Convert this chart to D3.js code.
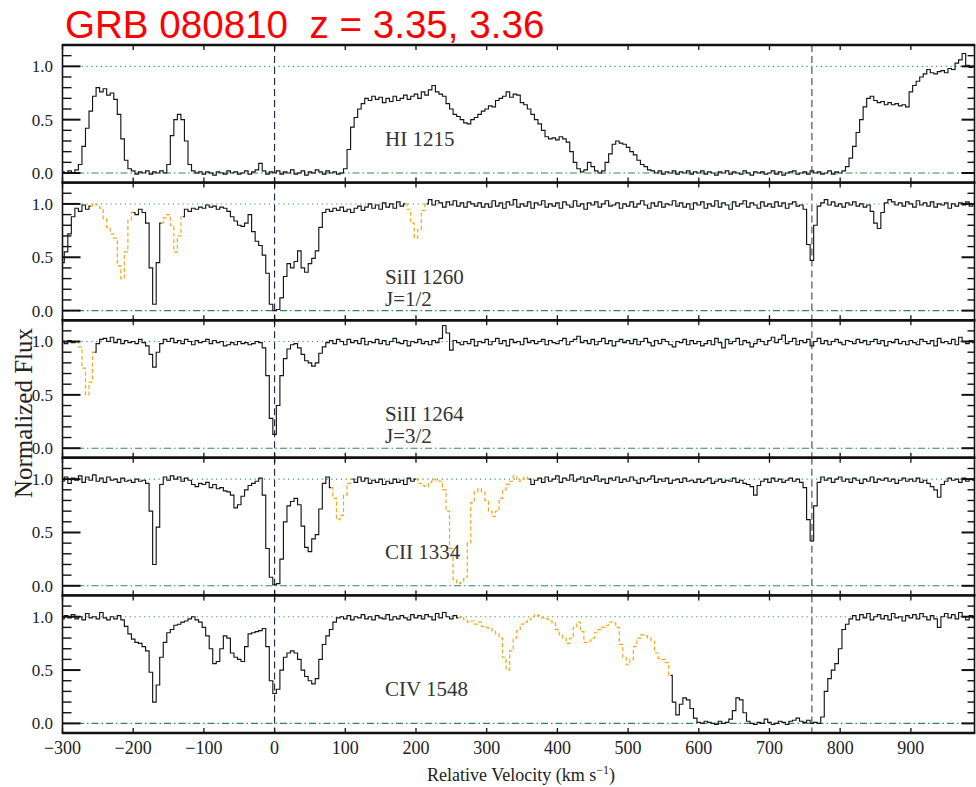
<!DOCTYPE html>
<html>
<head>
<meta charset="utf-8">
<script src="https://cdn.jsdelivr.net/npm/d3@7/dist/d3.min.js"></script>
<style>
  body { margin: 0; background: #fff; }
  svg { display: block; }
</style>
</head>
<body>
<svg id="chart" width="976" height="787"></svg>
<script>
// Velocity grid of every spectrum (km/s): first pixel and pixel width
const velocityStart = -300;
const velocityStep = 5;

// Normalized flux, one value per 5 km/s pixel, each row covers 100 km/s
const fluxHI1215 = [
  0.01,0.00,0.02,0.00,0.03,0.08,0.25,0.42,0.58,0.72,0.80,0.76,0.79,0.73,0.75,0.69,0.55,0.32,0.12,0.04,
  0.02,-0.01,0.01,0.00,0.02,-0.01,0.01,0.00,0.02,0.00,0.08,0.35,0.50,0.55,0.50,0.30,0.08,0.02,0.00,0.01,
  -0.01,0.01,0.00,-0.02,0.01,0.00,-0.01,0.02,0.00,0.01,-0.01,0.00,0.02,-0.01,0.01,0.03,0.09,0.02,-0.01,0.01,
  0.00,0.02,-0.01,0.01,0.00,0.03,-0.01,0.00,0.02,-0.02,0.01,0.00,0.03,0.01,-0.01,0.02,0.00,0.01,-0.01,0.00,
  0.04,0.22,0.43,0.52,0.60,0.65,0.70,0.68,0.72,0.69,0.71,0.66,0.70,0.67,0.72,0.68,0.70,0.73,0.69,0.72,
  0.74,0.70,0.76,0.73,0.78,0.82,0.76,0.74,0.72,0.65,0.60,0.55,0.53,0.50,0.47,0.46,0.50,0.52,0.55,0.58,
  0.60,0.63,0.62,0.68,0.70,0.72,0.76,0.71,0.74,0.73,0.66,0.64,0.60,0.55,0.50,0.46,0.40,0.34,0.32,0.33,
  0.31,0.34,0.32,0.29,0.20,0.10,0.04,0.01,0.03,0.10,0.06,0.02,0.00,0.02,0.10,0.18,0.27,0.30,0.28,0.27,
  0.24,0.20,0.17,0.12,0.08,0.06,0.03,0.02,0.00,0.02,-0.01,0.01,0.00,0.02,-0.01,0.01,0.00,0.02,-0.01,0.01,
  0.00,0.02,-0.01,0.01,0.00,-0.02,0.01,0.00,0.02,-0.01,0.01,0.00,-0.01,0.02,0.00,-0.02,0.01,0.00,0.01,-0.01,
  0.00,0.02,-0.01,0.01,-0.02,0.00,0.01,0.02,-0.01,0.00,0.01,-0.01,0.02,0.00,0.01,-0.01,0.00,0.02,-0.01,0.01,
  0.00,0.02,0.06,0.14,0.25,0.38,0.50,0.62,0.70,0.72,0.68,0.66,0.67,0.64,0.66,0.64,0.65,0.63,0.64,0.62,
  0.76,0.82,0.86,0.90,0.93,0.97,0.94,0.93,0.95,0.96,0.94,0.98,0.97,1.03,1.06,1.12,1.01,0.99,1.00,1.00
];

const fluxSiII1260 = [
  0.45,0.55,0.72,0.88,0.96,0.93,0.99,0.95,0.98,1.00,0.99,0.96,0.86,0.78,0.72,0.68,0.42,0.30,0.55,0.85,
  0.92,0.90,0.95,0.92,0.82,0.40,0.06,0.45,0.82,0.87,0.90,0.80,0.55,0.70,0.88,0.95,0.93,0.96,0.95,0.97,
  0.96,0.99,0.97,0.98,0.95,0.97,0.96,0.93,0.88,0.84,0.80,0.79,0.82,0.90,0.74,0.65,0.61,0.52,0.35,0.06,
  0.00,0.01,0.12,0.32,0.44,0.40,0.46,0.56,0.40,0.36,0.44,0.49,0.56,0.78,0.92,0.95,0.93,0.96,0.94,0.97,
  0.93,0.95,0.92,0.96,0.98,0.94,0.97,1.00,0.96,0.99,0.95,1.01,0.97,1.00,0.96,1.02,0.98,1.00,0.95,0.82,
  0.68,0.76,0.94,1.00,1.04,0.99,1.03,1.01,0.97,1.02,0.99,1.03,0.98,1.01,0.97,1.02,1.00,0.98,1.01,0.97,
  1.00,0.97,1.03,0.98,1.01,0.96,1.02,0.99,1.04,0.97,1.00,0.98,1.02,0.96,1.01,0.99,1.03,0.97,1.00,0.98,
  1.01,0.96,1.02,0.99,0.97,1.03,0.98,1.00,0.95,1.01,0.99,1.02,0.97,1.00,1.03,0.98,0.99,1.01,0.96,1.00,
  0.98,1.02,0.97,1.00,1.03,0.99,0.96,1.01,0.98,1.02,0.97,1.00,0.99,1.03,0.98,1.01,0.97,1.00,0.95,1.01,
  0.99,1.02,0.96,1.00,0.98,1.03,0.97,1.01,0.99,0.95,1.02,0.98,1.00,1.03,0.97,1.01,0.99,0.96,1.02,0.98,
  1.00,0.97,1.02,0.98,1.01,0.96,1.00,1.02,0.98,0.99,0.95,0.62,0.47,0.80,0.98,1.01,1.04,0.99,1.02,0.98,
  1.00,0.97,1.01,0.99,1.02,0.98,1.00,0.97,0.99,0.93,0.82,0.77,0.92,1.01,1.04,1.02,0.99,1.01,0.98,1.02,
  1.00,0.97,1.03,0.99,1.01,0.98,1.02,0.97,1.00,0.99,1.01,0.96,1.00,0.98,1.01,0.99,1.02,0.98,1.00,0.99
];

const fluxSiII1264 = [
  1.00,0.98,1.01,0.99,1.00,0.95,0.75,0.50,0.62,0.90,0.98,1.02,1.03,1.00,1.04,0.99,1.02,0.98,1.01,0.99,
  1.00,0.98,1.02,0.99,0.96,0.88,0.76,0.90,0.98,1.02,1.00,1.03,0.99,1.01,0.98,1.02,1.00,0.97,1.01,0.99,
  1.00,1.02,0.98,1.01,0.99,1.00,0.96,0.97,0.99,0.97,1.00,0.98,0.99,0.97,0.98,1.00,0.99,0.94,0.68,0.28,
  0.13,0.40,0.68,0.84,0.93,0.97,0.98,0.94,0.88,0.82,0.80,0.77,0.80,0.89,0.95,0.99,1.01,0.98,1.02,1.00,
  0.97,1.02,0.99,1.01,0.98,1.03,0.97,1.00,0.99,1.02,0.98,1.01,0.97,1.00,1.03,0.99,0.98,1.01,0.96,1.00,
  0.99,1.02,0.98,1.00,0.97,1.01,0.99,1.03,1.15,1.08,0.92,1.01,0.99,0.97,1.00,0.98,1.02,0.96,1.00,0.99,
  1.02,0.97,1.00,1.03,0.98,1.01,0.96,1.02,0.99,1.00,0.97,1.03,0.99,1.01,0.98,1.00,1.02,0.97,1.01,0.99,
  0.98,1.01,1.03,0.97,1.00,1.02,1.05,0.99,1.01,0.98,1.02,0.97,1.00,1.03,0.98,1.01,0.96,1.00,1.02,0.99,
  1.01,0.98,1.02,0.97,1.00,1.03,0.99,0.96,1.01,0.98,1.02,1.00,0.97,0.95,1.00,0.99,1.02,0.97,1.01,0.98,
  1.00,0.96,0.98,1.01,0.97,1.03,0.99,0.94,1.02,0.98,1.00,1.03,0.97,1.01,0.99,0.95,0.98,1.02,1.00,0.97,
  1.01,1.04,0.99,1.02,1.06,0.98,1.00,1.03,0.97,1.01,0.99,1.02,0.96,1.00,1.03,0.98,1.01,0.97,1.00,1.02,
  0.99,0.97,1.01,1.00,0.98,1.02,0.99,1.01,0.97,1.00,1.02,0.98,1.01,0.96,1.00,0.99,1.02,0.98,1.00,0.97,
  1.01,0.99,0.97,1.02,1.00,0.98,1.01,0.96,1.03,0.99,1.00,0.98,1.02,0.97,1.04,1.00,0.98,1.01,0.99,1.00
];

const fluxCII1334 = [
  0.98,1.02,0.96,1.01,0.99,1.03,0.97,1.02,0.99,1.04,0.98,1.01,0.97,1.02,0.99,1.00,0.97,1.01,0.98,0.99,
  0.97,1.00,0.98,0.99,0.96,0.70,0.20,0.55,0.95,1.02,0.99,1.03,1.00,1.02,0.98,1.01,0.99,0.95,0.93,0.96,
  0.95,0.97,0.92,0.95,0.91,0.92,0.89,0.88,0.85,0.73,0.76,0.84,0.90,0.94,0.96,0.98,1.01,0.85,0.35,0.08,
  0.01,0.02,0.25,0.60,0.75,0.79,0.82,0.76,0.56,0.36,0.32,0.44,0.48,0.72,0.96,1.02,0.92,0.82,0.62,0.66,
  0.85,0.96,1.00,0.97,1.02,0.98,1.01,0.96,0.99,0.97,1.00,0.95,0.98,0.96,1.00,0.97,0.99,0.95,1.01,0.98,
  1.00,0.96,0.94,0.93,0.97,1.00,0.99,0.98,0.90,0.70,0.35,0.06,0.02,0.03,0.08,0.40,0.78,0.88,0.91,0.88,
  0.80,0.70,0.65,0.70,0.82,0.90,0.95,0.98,1.03,0.98,1.00,1.02,1.00,0.95,0.99,1.01,0.97,1.02,0.98,1.00,
  1.03,0.97,1.01,0.99,1.04,0.98,1.00,1.02,0.97,1.01,0.99,1.03,0.98,1.00,0.96,1.01,0.99,1.02,0.97,1.00,
  0.98,1.02,0.99,0.96,1.01,0.98,1.00,1.03,0.97,1.00,0.98,1.01,0.96,0.99,1.00,0.97,1.01,0.98,0.99,0.97,
  1.00,0.97,0.99,1.01,0.96,0.98,1.00,0.97,0.99,0.98,1.01,0.97,0.99,0.96,0.95,0.93,0.85,0.94,0.98,1.00,
  0.97,1.01,0.98,1.00,0.97,0.99,1.01,0.98,1.00,0.97,0.92,0.62,0.42,0.75,0.97,1.02,0.99,1.01,0.97,1.00,
  1.02,0.98,1.00,0.97,1.01,0.99,0.96,1.00,0.98,1.02,0.97,1.00,0.99,1.01,0.98,1.00,0.96,0.99,1.01,0.98,
  1.00,0.98,1.01,0.97,0.99,0.96,0.93,0.90,0.83,0.95,0.98,1.01,0.99,1.00,0.97,1.01,0.98,1.00,0.99,1.00
];

const fluxCIV1548 = [
  0.98,1.01,0.99,1.02,0.98,1.00,0.97,1.03,0.99,1.00,0.98,1.04,0.99,0.97,1.00,0.98,1.01,0.97,0.91,0.84,
  0.79,0.76,0.75,0.72,0.68,0.48,0.20,0.36,0.62,0.76,0.85,0.88,0.92,0.93,0.95,0.96,0.98,1.00,0.97,0.95,
  0.90,0.82,0.70,0.56,0.58,0.70,0.82,0.80,0.66,0.62,0.60,0.58,0.72,0.84,0.85,0.86,0.87,0.89,0.72,0.40,
  0.28,0.32,0.50,0.62,0.66,0.68,0.66,0.60,0.50,0.44,0.40,0.37,0.42,0.60,0.74,0.82,0.88,0.95,0.99,1.00,
  0.98,1.01,0.97,1.00,0.99,1.02,0.98,1.00,0.97,1.01,0.99,0.98,1.02,0.97,1.00,0.98,1.01,0.99,0.97,1.02,
  0.99,1.01,0.98,1.02,1.00,0.97,1.03,0.99,1.04,1.00,0.98,1.01,0.99,1.00,0.97,0.95,0.96,0.93,0.95,0.91,
  0.90,0.89,0.87,0.84,0.80,0.62,0.50,0.68,0.80,0.87,0.93,0.95,0.97,1.00,1.02,1.01,0.99,0.98,0.96,0.94,
  0.88,0.83,0.80,0.75,0.80,0.90,0.95,0.86,0.76,0.77,0.80,0.85,0.88,0.90,0.92,0.95,0.94,0.90,0.74,0.62,
  0.55,0.60,0.72,0.80,0.83,0.82,0.80,0.77,0.66,0.61,0.60,0.57,0.45,0.20,0.08,0.18,0.24,0.22,0.14,0.05,
  0.01,0.00,0.02,0.01,0.00,-0.01,0.02,0.00,0.01,0.04,0.12,0.24,0.22,0.10,0.02,0.00,-0.01,0.01,0.00,0.04,
  0.01,-0.01,0.00,0.02,0.01,-0.01,0.02,0.03,0.05,0.02,0.01,0.03,0.00,0.01,0.00,0.06,0.30,0.42,0.50,0.56,
  0.70,0.88,0.93,0.98,1.01,0.97,1.02,0.99,1.03,0.97,1.00,1.02,0.98,1.01,0.97,1.03,0.99,1.00,0.96,1.01,
  0.99,1.02,0.98,1.03,1.00,0.97,1.01,0.98,0.90,1.00,1.03,0.99,1.02,0.98,1.04,1.00,0.97,1.01,0.99,1.00
];

// Transition labels written inside each panel
const panelLabels = [["HI 1215"], ["SiII 1260", "J=1/2"], ["SiII 1264", "J=3/2"], ["CII 1334"], ["CIV 1548"]];

// Velocity windows (km/s) blended with other absorbers, drawn dashed
const blendsHI1215 = [];
const blendsSiII1260 = [[-260, -200], [-160, -130], [185, 215]];
const blendsSiII1264 = [[-280, -255]];
const blendsCII1334 = [[80, 110], [200, 360]];
const blendsCIV1548 = [[260, 560]];

// Component velocities marked by vertical lines (km/s)
const componentVelocities = [0, 760];

// Axis ticks
const xTickValues = [-300, -200, -100, 0, 100, 200, 300, 400, 500, 600, 700, 800, 900];
const xTickLabels = ["\u2212300", "\u2212200", "\u2212100", "0", "100", "200", "300", "400", "500", "600", "700", "800", "900"];
const yMajorTicks = [0, 0.5, 1.0];
const yTickLabels = ["0.0", "0.5", "1.0"];
const yMinorTicks = [0, 0.1, 0.2, 0.3, 0.4, 0.5, 0.6, 0.7, 0.8, 0.9, 1.0, 1.1];

const titleText = "GRB 080810  z = 3.35, 3.36";

// ---------------------------------------------------------------------------
const fluxes = [fluxHI1215, fluxSiII1260, fluxSiII1264, fluxCII1334, fluxCIV1548];
const blends = [blendsHI1215, blendsSiII1260, blendsSiII1264, blendsCII1334, blendsCIV1548];

const svg = d3.select("#chart");
const serif = "'Liberation Serif', 'Times New Roman', serif";

const left = 62.5, right = 974.5, top0 = 45, panelH = 137.6;
const x = d3.scaleLinear().domain([-300, 990]).range([left, right]);

svg.append("text")
  .attr("x", 65).attr("y", 38)
  .attr("fill", "#ff0000")
  .attr("font-family", "'Liberation Sans', Arial, sans-serif")
  .attr("font-size", 38.6)
  .style("white-space", "pre")
  .text(titleText);

fluxes.forEach((flux, p) => {
  const top = top0 + p * panelH;
  const y = d3.scaleLinear().domain([-0.09, 1.2]).range([top + panelH, top]);
  const g = svg.append("g");
  const data = flux.map((f, i) => ({ v: velocityStart + i * velocityStep, f }));

  const clipId = "clip" + p;
  svg.append("clipPath").attr("id", clipId)
    .append("rect").attr("x", left).attr("y", top).attr("width", right - left).attr("height", panelH);

  // continuum and zero reference lines
  g.append("line")
    .attr("x1", left).attr("x2", right).attr("y1", y(1)).attr("y2", y(1))
    .attr("stroke", "#2f9e68").attr("stroke-width", 1.1).attr("stroke-dasharray", "1.2,3.6");
  g.append("line")
    .attr("x1", left).attr("x2", right).attr("y1", y(0)).attr("y2", y(0))
    .attr("stroke", "#2e8b57").attr("stroke-width", 1.1).attr("stroke-dasharray", "7,3,1.5,3");

  // component markers
  componentVelocities.forEach((cv, k) => {
    g.append("line")
      .attr("x1", x(cv)).attr("x2", x(cv)).attr("y1", top).attr("y2", top + panelH)
      .attr("stroke", k === 0 ? "#1d2140" : "#444").attr("stroke-width", 1.1)
      .attr("stroke-dasharray", "7,4");
  });

  const blendList = blends[p];
  const inside = d => blendList.some(([a, b]) => d.v > a && d.v < b);

  const line = d3.line()
    .x(d => x(d.v)).y(d => y(d.f))
    .curve(d3.curveStep);

  const plot = g.append("g").attr("clip-path", `url(#${clipId})`);
  plot.append("path")
    .datum(data)
    .attr("fill", "none").attr("stroke", "#151515").attr("stroke-width", 1.15)
    .attr("stroke-linejoin", "miter")
    .attr("d", line.defined(d => !inside(d)));

  blendList.forEach(([a, b]) => {
    plot.append("path")
      .datum(data.filter(d => d.v >= a && d.v <= b))
      .attr("fill", "none").attr("stroke", "#f3a71c").attr("stroke-width", 1.2)
      .attr("stroke-dasharray", "4,2.5")
      .attr("d", d3.line().x(d => x(d.v)).y(d => y(d.f)).curve(d3.curveStep));
  });

  // labels inside the panel
  panelLabels[p].forEach((t, k) => {
    g.append("text")
      .attr("x", 385).attr("y", top + 101 + k * 22)
      .attr("font-family", serif).attr("font-size", 21).attr("fill", "#333")
      .text(t);
  });

  // frame
  g.append("line").attr("x1", left).attr("x2", left).attr("y1", top).attr("y2", top + panelH)
    .attr("stroke", "#111").attr("stroke-width", 1.6);
  g.append("line").attr("x1", right).attr("x2", right).attr("y1", top).attr("y2", top + panelH)
    .attr("stroke", "#111").attr("stroke-width", 1.6);
  g.append("line").attr("x1", left - 0.8).attr("x2", right + 0.8).attr("y1", top).attr("y2", top)
    .attr("stroke", "#111").attr("stroke-width", 2.4);
  g.append("line").attr("x1", left - 0.8).attr("x2", right + 0.8).attr("y1", top + panelH).attr("y2", top + panelH)
    .attr("stroke", "#111").attr("stroke-width", 2.4);

  // y ticks, both sides
  yMinorTicks.forEach(t => {
    const major = yMajorTicks.some(m => Math.abs(m - t) < 1e-6);
    g.append("line").attr("x1", left).attr("x2", left + (major ? 18 : 9))
      .attr("y1", y(t)).attr("y2", y(t)).attr("stroke", "#111").attr("stroke-width", major ? 2 : 1.4);
    g.append("line").attr("x1", right).attr("x2", right - (major ? 13 : 7))
      .attr("y1", y(t)).attr("y2", y(t)).attr("stroke", "#111").attr("stroke-width", major ? 2 : 1.4);
  });
  yMajorTicks.forEach((t, k) => {
    g.append("text")
      .attr("x", 53).attr("y", y(t)).attr("dy", "0.35em")
      .attr("text-anchor", "end")
      .attr("font-family", serif).attr("font-size", 17).attr("fill", "#222")
      .text(yTickLabels[k]);
  });

  // x ticks on top and bottom edges
  xTickValues.forEach(v => {
    g.append("line").attr("x1", x(v)).attr("x2", x(v)).attr("y1", top).attr("y2", top + 5)
      .attr("stroke", "#111").attr("stroke-width", 1.3);
    g.append("line").attr("x1", x(v)).attr("x2", x(v)).attr("y1", top + panelH).attr("y2", top + panelH - 5)
      .attr("stroke", "#111").attr("stroke-width", 1.3);
  });
});

// bottom axis labels
const bottom = top0 + 5 * panelH;
xTickValues.forEach((v, k) => {
  svg.append("text")
    .attr("x", x(v)).attr("y", bottom + 21)
    .attr("text-anchor", "middle")
    .attr("font-family", serif).attr("font-size", 18).attr("fill", "#222")
    .text(xTickLabels[k]);
});

const xTitle = svg.append("text")
  .attr("x", 521).attr("y", bottom + 48)
  .attr("text-anchor", "middle")
  .attr("font-family", serif).attr("font-size", 18).attr("fill", "#222");
xTitle.append("tspan").text("Relative Velocity (km s");
xTitle.append("tspan").attr("dy", -7).attr("font-size", 12).text("\u22121");
xTitle.append("tspan").attr("dy", 7).text(")");

svg.append("text")
  .attr("transform", `translate(32, 413) rotate(-90)`)
  .attr("text-anchor", "middle")
  .attr("font-family", serif).attr("font-size", 25).attr("fill", "#222")
  .text("Normalized Flux");
</script>
</body>
</html>
